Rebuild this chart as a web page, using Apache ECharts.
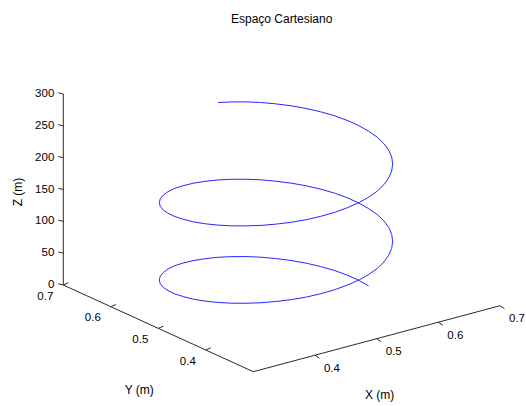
<!DOCTYPE html>
<html><head><meta charset="utf-8">
<script src="https://cdn.jsdelivr.net/npm/echarts@6/dist/echarts.min.js"></script>
<style>html,body{margin:0;padding:0;background:#fff}#c{width:526px;height:406px}</style>
</head><body><div id="c"></div>
<script>
// ---- data ----
const chartTitle = 'Espaço Cartesiano';
const xName = 'X (m)', yName = 'Y (m)', zName = 'Z (m)';
const xLimits = [0.3, 0.7];
const yLimits = [0.3, 0.7];
const zLimits = [0, 300];
const xTicks = [0.4, 0.5, 0.6, 0.7];
const yTicks = [0.4, 0.5, 0.6, 0.7];
const zTicks = [0, 50, 100, 150, 200, 250, 300];
const xTickLabels = ['0.4', '0.5', '0.6', '0.7'];
const yTickLabels = ['0.4', '0.5', '0.6', '0.7'];
const zTickLabels = ['0', '50', '100', '150', '200', '250', '300'];

// trajectory (helix) samples
const pathX = [
  0.610,0.609,0.605,0.599,0.590,0.579,0.566,0.551,0.535,0.517,0.499,0.480,
  0.460,0.440,0.421,0.403,0.385,0.369,0.354,0.341,0.330,0.321,0.315,0.311,
  0.310,0.311,0.315,0.321,0.330,0.341,0.354,0.369,0.385,0.403,0.421,0.440,
  0.460,0.480,0.499,0.517,0.535,0.551,0.566,0.579,0.590,0.599,0.605,0.609,
  0.610,0.609,0.605,0.599,0.590,0.579,0.566,0.551,0.535,0.517,0.499,0.480,
  0.460,0.440,0.421,0.403,0.385,0.369,0.354,0.341,0.330,0.321,0.315,0.311,
  0.310,0.311,0.315,0.321,0.330,0.341,0.354,0.369,0.385,0.403,0.421,0.440,
  0.460,0.480,0.499,0.517,0.535,0.551,0.566,0.579,0.590,0.599,0.605,0.609,
  0.610,0.609,0.605,0.599,0.590,0.579,0.566,0.551,0.535,0.517,0.499,0.481
];
const pathY = [
  0.460,0.480,0.499,0.517,0.535,0.551,0.566,0.579,0.590,0.599,0.605,0.609,
  0.610,0.609,0.605,0.599,0.590,0.579,0.566,0.551,0.535,0.517,0.499,0.480,
  0.460,0.440,0.421,0.403,0.385,0.369,0.354,0.341,0.330,0.321,0.315,0.311,
  0.310,0.311,0.315,0.321,0.330,0.341,0.354,0.369,0.385,0.403,0.421,0.440,
  0.460,0.480,0.499,0.517,0.535,0.551,0.566,0.579,0.590,0.599,0.605,0.609,
  0.610,0.609,0.605,0.599,0.590,0.579,0.566,0.551,0.535,0.517,0.499,0.480,
  0.460,0.440,0.421,0.403,0.385,0.369,0.354,0.341,0.330,0.321,0.315,0.311,
  0.310,0.311,0.315,0.321,0.330,0.341,0.354,0.369,0.385,0.403,0.421,0.440,
  0.460,0.480,0.499,0.517,0.535,0.551,0.566,0.579,0.590,0.599,0.605,0.609
];
const pathZ = [
  0,2.5,5.1,7.6,10.1,12.7,15.2,17.7,20.3,22.8,25.3,27.8,
  30.4,32.9,35.4,38.0,40.5,43.0,45.6,48.1,50.6,53.2,55.7,58.2,
  60.8,63.3,65.8,68.3,70.9,73.4,75.9,78.5,81.0,83.5,86.1,88.6,
  91.1,93.7,96.2,98.7,101.3,103.8,106.3,108.8,111.4,113.9,116.4,119.0,
  121.5,124.0,126.6,129.1,131.6,134.2,136.7,139.2,141.8,144.3,146.8,149.3,
  151.9,154.4,156.9,159.5,162.0,164.5,167.1,169.6,172.1,174.7,177.2,179.7,
  182.3,184.8,187.3,189.8,192.4,194.9,197.4,200.0,202.5,205.0,207.6,210.1,
  212.6,215.2,217.7,220.2,222.8,225.3,227.8,230.3,232.9,235.4,237.9,240.5,
  243.0,245.5,248.1,250.6,253.1,255.7,258.2,260.7,263.3,265.8,268.3,270.7
];

// ---- 3D view (orthographic projection onto the 2D plotting plane) ----
const W = 526, H = 406;
const origin = [63.3, 285];           // screen point of (xmin, ymax, zmin)
const xAxisVec = [246.7, -66];        // full x range
const yAxisVec = [190, 86.7];         // from ymax to ymin
const zAxisVec = [0, -191];           // full z range
function proj(x, y, z) {
  const fx = (x - xLimits[0]) / (xLimits[1] - xLimits[0]);
  const fy = (yLimits[1] - y) / (yLimits[1] - yLimits[0]);
  const fz = (z - zLimits[0]) / (zLimits[1] - zLimits[0]);
  return [origin[0] + fx * xAxisVec[0] + fy * yAxisVec[0] + fz * zAxisVec[0],
          origin[1] + fx * xAxisVec[1] + fy * yAxisVec[1] + fz * zAxisVec[1]];
}

const helix = pathX.map((x, i) => proj(x, pathY[i], pathZ[i]));
const box = [
  proj(xLimits[0], yLimits[1], zLimits[1]),
  proj(xLimits[0], yLimits[1], zLimits[0]),
  proj(xLimits[0], yLimits[0], zLimits[0]),
  proj(xLimits[1], yLimits[0], zLimits[0])
];

const tickDir = { x: [4.5, 3], y: [5, -2.2], z: [-5, -1.2] };
const labelOff = { x: [17, 12.3], y: [-18, 10.5], z: [-9, -1] };
const ticks = [], labels = [];
xTicks.forEach((t, i) => { const p = proj(t, yLimits[0], zLimits[0]); ticks.push({ p, k: 'x' }); labels.push({ p, k: 'x', text: xTickLabels[i] }); });
yTicks.forEach((t, i) => { const p = proj(xLimits[0], t, zLimits[0]); ticks.push({ p, k: 'y' }); labels.push({ p, k: 'y', text: yTickLabels[i] }); });
zTicks.forEach((t, i) => { const p = proj(xLimits[0], yLimits[1], t); ticks.push({ p, k: 'z' }); labels.push({ p, k: 'z', text: zTickLabels[i] }); });
const names = [
  { p: proj((xLimits[0] + xLimits[1]) / 2, yLimits[0], zLimits[0]), off: [3, 56], text: xName, rot: 0 },
  { p: proj(xLimits[0], (yLimits[0] + yLimits[1]) / 2, zLimits[0]), off: [-19, 62], text: yName, rot: 0 },
  { p: proj(xLimits[0], yLimits[1], (zLimits[0] + zLimits[1]) / 2), off: [-45, 2.5], text: zName, rot: Math.PI / 2 }
];

const FONT = '"Liberation Sans", Arial, sans-serif';
const chart = echarts.init(document.getElementById('c'), null, { renderer: 'svg' });
chart.setOption({
  animation: false,
  backgroundColor: '#fff',
  title: {
    text: chartTitle, left: 226, top: 8,
    textStyle: { fontSize: 12, fontWeight: 'normal', color: '#000', fontFamily: FONT }
  },
  grid: { left: 0, right: 0, top: 0, bottom: 0 },
  xAxis: { type: 'value', min: 0, max: W, show: false },
  yAxis: { type: 'value', min: 0, max: H, inverse: true, show: false },
  series: [
    {
      type: 'line', data: box, showSymbol: false, clip: false,
      lineStyle: { color: '#2b2b2b', width: 1 }, silent: true
    },
    {
      type: 'custom', data: ticks.map(t => t.p), clip: false, silent: true,
      renderItem: (params, api) => {
        const c = api.coord([api.value(0), api.value(1)]);
        const d = tickDir[ticks[params.dataIndex].k];
        return { type: 'line', shape: { x1: c[0], y1: c[1], x2: c[0] + d[0], y2: c[1] + d[1] },
                 style: { stroke: '#2b2b2b', lineWidth: 1 } };
      }
    },
    {
      type: 'custom', data: labels.map(t => t.p), clip: false, silent: true,
      renderItem: (params, api) => {
        const c = api.coord([api.value(0), api.value(1)]);
        const l = labels[params.dataIndex];
        const o = labelOff[l.k];
        return { type: 'text', x: c[0] + o[0], y: c[1] + o[1],
                 style: { text: l.text, fill: '#000', font: '11.5px ' + FONT,
                          align: l.k === 'z' ? 'right' : 'center', verticalAlign: 'middle' } };
      }
    },
    {
      type: 'custom', data: names.map(t => t.p), clip: false, silent: true,
      renderItem: (params, api) => {
        const c = api.coord([api.value(0), api.value(1)]);
        const n = names[params.dataIndex];
        return { type: 'text', x: c[0] + n.off[0], y: c[1] + n.off[1], rotation: n.rot,
                 style: { text: n.text, fill: '#000', font: '12px ' + FONT,
                          align: 'center', verticalAlign: 'middle' } };
      }
    },
    {
      type: 'line', data: helix, showSymbol: false, smooth: false, clip: false,
      lineStyle: { color: '#2626ff', width: 1 }, silent: true
    }
  ]
});
</script></body></html>
